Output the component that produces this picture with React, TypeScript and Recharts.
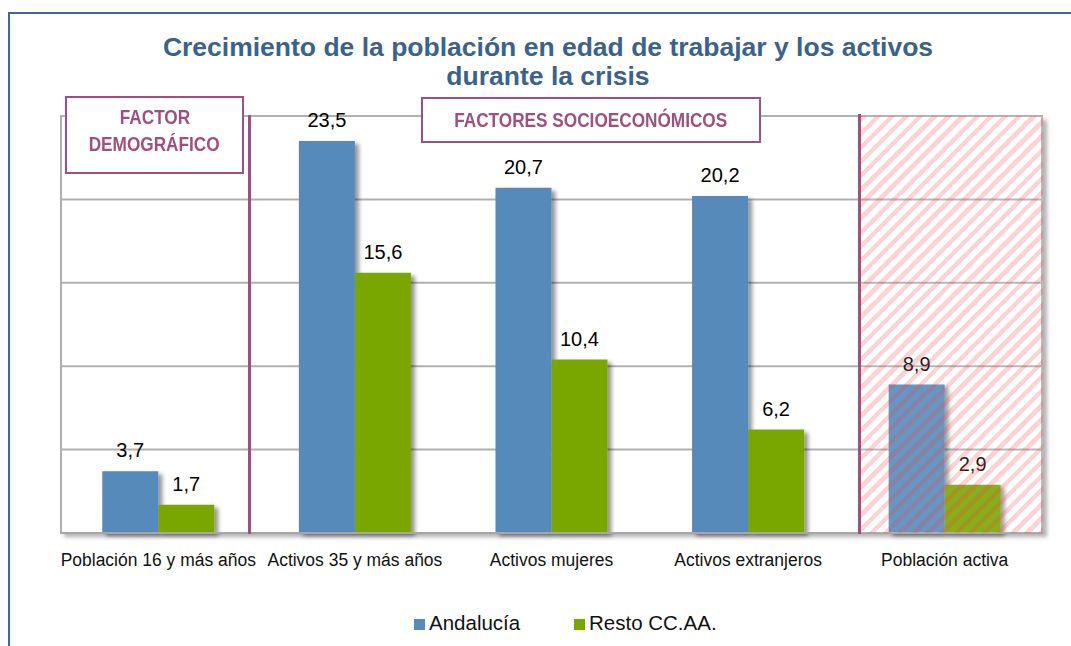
import { BarChart, Bar, XAxis, YAxis, CartesianGrid, Legend, LabelList, Rectangle } from "recharts";

const categories = [
  "Población 16 y más años",
  "Activos 35 y más años",
  "Activos mujeres",
  "Activos extranjeros",
  "Población activa",
];
const andalucia = [3.7, 23.5, 20.7, 20.2, 8.9];
const restoCCAA = [1.7, 15.6, 10.4, 6.2, 2.9];
const yTicks = [0, 5, 10, 15, 20, 25];

const data = categories.map((name, i) => ({ name, andalucia: andalucia[i], resto: restoCCAA[i] }));

const FONT = '"Liberation Sans", Arial, sans-serif';
const BLUE = "#558ABB";
const GREEN = "#7AA600";
const PURPLE = "#A0507F";
const GRID = "#B0B0B0";

const fmt = (v: unknown) => Number(v).toFixed(1).replace(".", ",");

function CategoryTick({ x, y, payload }: any) {
  return (
    <text transform={`translate(${x},${y + 33}) scale(0.92,1)`} textAnchor="middle"
      fontSize={19} fontFamily={FONT} fill="#111">
      {payload.value}
    </text>
  );
}

const ShadowBar = (props: any) => <Rectangle {...props} filter="url(#barShadow)" />;

function LegendContent() {
  const items = [
    { label: "Andalucía", color: BLUE, left: 414 },
    { label: "Resto CC.AA.", color: GREEN, left: 574 },
  ];
  return (
    <div style={{ position: "relative", width: 1071, height: 40 }}>
      {items.map((it) => (
        <div key={it.label}>
          <div style={{ position: "absolute", left: it.left, top: 13, width: 11, height: 11, background: it.color }} />
          <div style={{ position: "absolute", left: it.left + 15, top: 5, fontSize: 20.5, lineHeight: "24px",
            fontFamily: FONT, color: "#111", whiteSpace: "nowrap" }}>{it.label}</div>
        </div>
      ))}
    </div>
  );
}

const boxText = { color: PURPLE, fontWeight: 700, fontSize: 20, fontFamily: FONT, display: "inline-block",
  transform: "scaleX(0.86)", whiteSpace: "nowrap" } as const;

export default function App() {
  return (
    <div style={{ position: "absolute", left: 0, top: 0, width: 1071, height: 646, overflow: "hidden",
      background: "#fff", fontFamily: FONT }}>
      {/* outer frame */}
      <div style={{ position: "absolute", left: 8, top: 12, width: 1200, height: 800,
        borderTop: "2px solid #3D6A94", borderLeft: "2px solid #3D6A94" }} />
      {/* plot area background with shadow */}
      <div style={{ position: "absolute", left: 60, top: 116, width: 983, height: 417, background: "#fff",
        borderLeft: `2px solid ${GRID}`, borderRight: `2px solid ${GRID}`, boxSizing: "border-box",
        boxShadow: "4px 4px 4px rgba(0,0,0,0.3)" }} />

      <div style={{ position: "absolute", left: 0, top: 0 }}>
        <BarChart width={1071} height={646} data={data} barCategoryGap="21.5%" barGap={0}
          margin={{ top: 116, right: 28, left: 60, bottom: 33 }}>
          <defs>
            <filter id="barShadow" x="-20%" y="-20%" width="160%" height="140%">
              <feDropShadow dx={4} dy={3} stdDeviation={2.2} floodColor="#000" floodOpacity={0.42} />
            </filter>
          </defs>
          <CartesianGrid vertical={false} stroke={GRID} strokeWidth={2} />
          <XAxis dataKey="name" tick={<CategoryTick />} tickLine={false} tickSize={0} tickMargin={0}
            height={40} axisLine={{ stroke: "#A6A6A6", strokeWidth: 2 }} interval={0} />
          <YAxis hide domain={[0, 25]} ticks={yTicks} />
          <Legend verticalAlign="bottom" content={<LegendContent />}
            wrapperStyle={{ left: 0, bottom: 0, width: 1071, height: 40 }} />
          <Bar dataKey="andalucia" name="Andalucía" fill={BLUE} shape={ShadowBar} isAnimationActive={false}>
            <LabelList dataKey="andalucia" position="top" offset={14} formatter={fmt}
              fontSize={20} fontFamily={FONT} fill="#000" />
          </Bar>
          <Bar dataKey="resto" name="Resto CC.AA." fill={GREEN} shape={ShadowBar} isAnimationActive={false}>
            <LabelList dataKey="resto" position="top" offset={14} formatter={fmt}
              fontSize={20} fontFamily={FONT} fill="#000" />
          </Bar>
        </BarChart>
      </div>

      {/* title */}
      <div style={{ position: "absolute", left: 0, top: 33, width: 1096, textAlign: "center", fontSize: 26.5,
        lineHeight: "29px", fontWeight: 700, color: "#3B6389" }}>
        Crecimiento de la población en edad de trabajar y los activos<br />durante la crisis
      </div>

      {/* purple separators */}
      <div style={{ position: "absolute", left: 248, top: 115, width: 3, height: 419, background: PURPLE }} />
      <div style={{ position: "absolute", left: 858, top: 114, width: 3, height: 420, background: PURPLE }} />

      {/* hatched area */}
      <div style={{ position: "absolute", left: 861, top: 116, width: 182, height: 417,
        background: "repeating-linear-gradient(135deg, rgba(255,110,110,0.3) 0px 4.5px, rgba(255,255,255,0.1) 4.5px 10px)" }} />

      {/* factor boxes */}
      <div style={{ position: "absolute", left: 65, top: 96, width: 179, height: 78, boxSizing: "border-box",
        border: `2.5px solid ${PURPLE}`, background: "#fff", textAlign: "center", lineHeight: "24.7px",
        paddingTop: 7 }}>
        <span style={boxText}>FACTOR</span><br /><span style={boxText}>DEMOGRÁFICO</span>
      </div>
      <div style={{ position: "absolute", left: 421, top: 97, width: 340, height: 46, boxSizing: "border-box",
        border: `2.5px solid ${PURPLE}`, background: "#fff", textAlign: "center", lineHeight: "24px",
        paddingTop: 9 }}>
        <span style={boxText}>FACTORES SOCIOECONÓMICOS</span>
      </div>
    </div>
  );
}
